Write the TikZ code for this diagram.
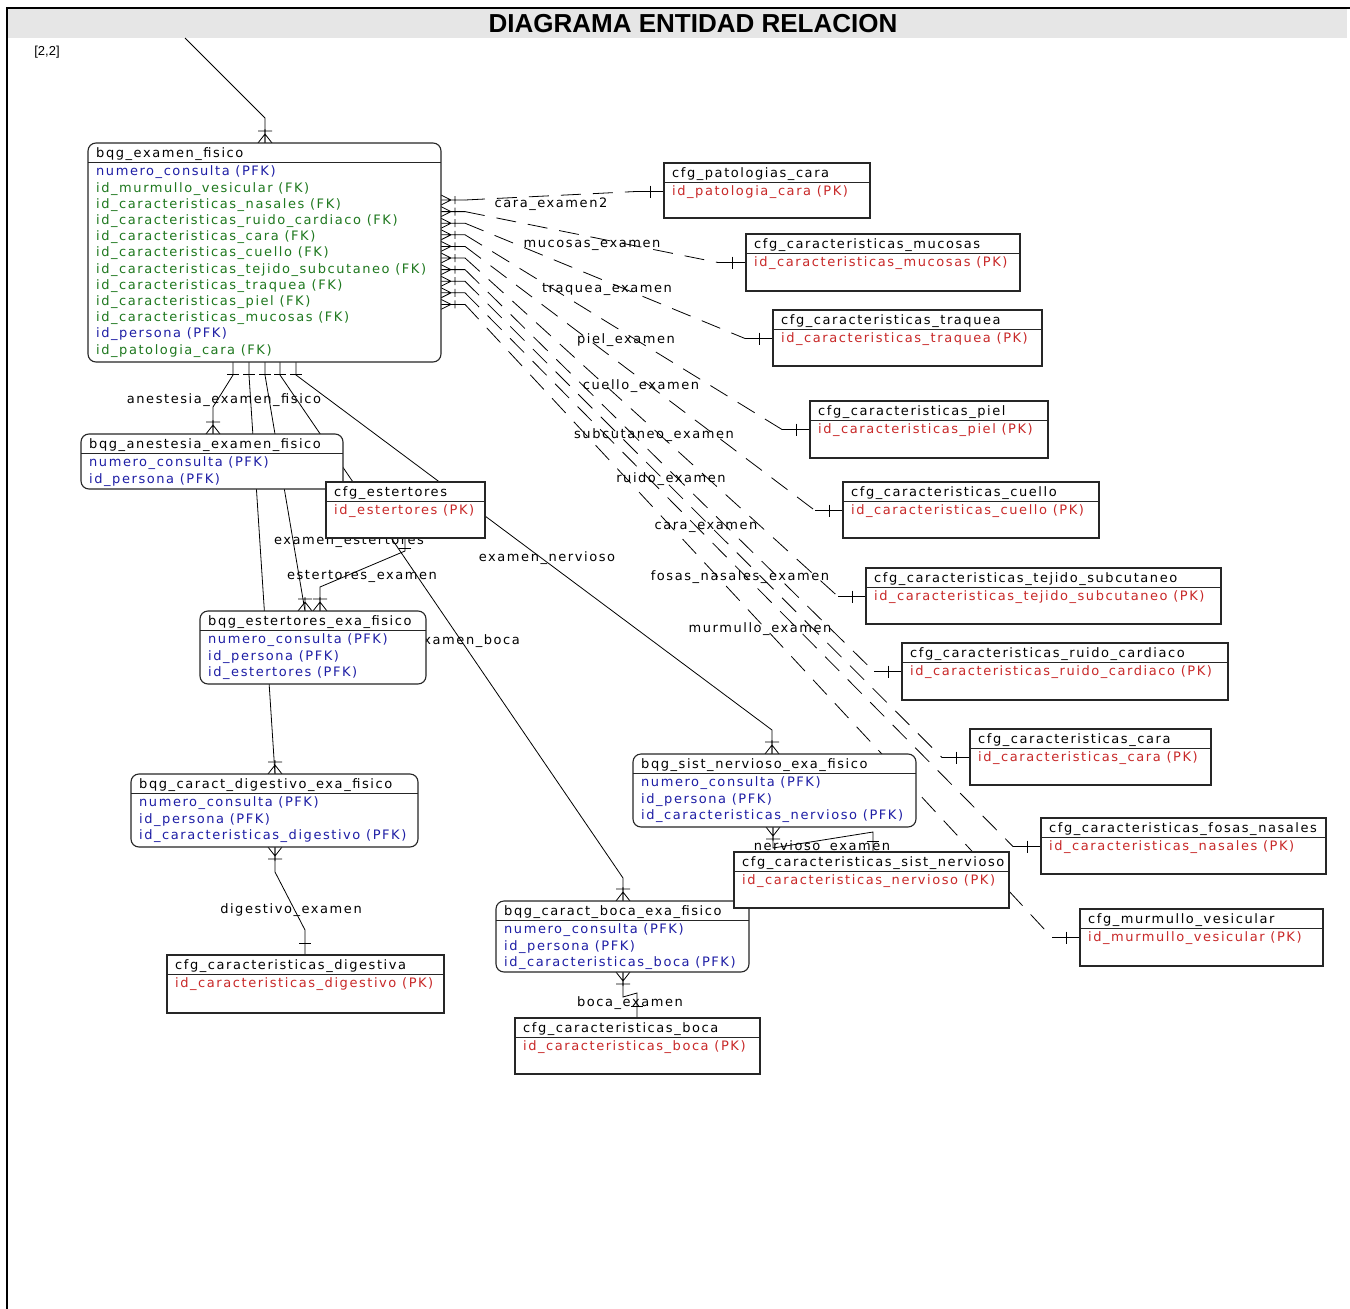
\documentclass[tikz,border=0pt]{standalone}
\usepackage{fontspec}
\usetikzlibrary{calc}
\newfontfamily\erfont[LetterSpace=12]{DejaVu Sans}
\newfontfamily\titlefont{Liberation Sans}
\definecolor{pkred}{RGB}{200,40,40}
\definecolor{fkgreen}{RGB}{30,120,30}
\definecolor{pfkblue}{RGB}{30,30,165}
\definecolor{titlegray}{RGB}{230,230,230}
\pgfdeclarelayer{back}
\pgfdeclarelayer{mid}
\pgfsetlayers{back,mid,main}
\tikzset{
 er/.style={font=\erfont\fontsize{13}{13}\selectfont, inner sep=0pt, anchor=west},
 hdr/.style={er, text=black},
 pk/.style={er, text=pkred},
 fk/.style={er, text=fkgreen},
 pfk/.style={er, text=pfkblue},
 rel/.style={er, anchor=center, text=black},
 bqg/.style={draw=black!85, line width=1.1pt, fill=white, rounded corners=8pt, inner sep=0pt, outer sep=0pt, anchor=north west},
 cfg/.style={draw=black!85, line width=1.1pt, fill=white, inner sep=0pt, outer sep=0pt, anchor=north west},
 conn/.style={line width=0.8pt, black},
 dconn/.style={conn, dash pattern=on 20pt off 12pt},
}
\newcommand\entbox[7]{%
  \node[#2, minimum width=#5pt, minimum height=#6pt] (#1) at (#3,#4) {};
  \node[hdr] (#1-h) at ($(#1.north west)+(8,11)$) {#7};
  \draw[line width=1pt, black!85] ($(#1.north west)+(0,19.5)$) -- ($(#1.north east)+(0,19.5)$);
}
\newcommand\entrow[4]{%
  \node[#3] (#1-r#2) at ($(#1.north west)+(8,29.5+16.2*#2)$) {#4};
}
\newcommand\crowmany[2]{%
  \draw[conn, shift={(#1)}, rotate=#2] (0,-7) -- (9,0) -- (0,7) (0,0) -- (14,0) (12,-7) -- (12,7);
}
\newcommand\crowsmall[1]{%
  \draw[conn, shift={(#1)}] (0,-5) -- (10,0) -- (0,5) (0,0) -- (24,0) (14,-4) -- (14,4);
}
\newcommand\onebar[2]{%
  \draw[conn, shift={(#1)}, rotate=#2] (0,-6) -- (0,6);
}
\begin{document}
\begin{tikzpicture}[x=1pt,y=-1pt]
\useasboundingbox (0,0) rectangle (1350,1309);
% frame and title
\begin{pgfonlayer}{back}
\fill[titlegray] (8,9) rectangle (1347,38);
\end{pgfonlayer}
\draw[line width=2pt] (7,1309) -- (7,8) -- (1350,8);
\node[font=\titlefont\bfseries\fontsize{26}{26}\selectfont, inner sep=0pt] (title) at (693,24) {DIAGRAMA ENTIDAD RELACION};
\node[font=\titlefont\fontsize{13}{13}\selectfont, inner sep=0pt] (grid) at (47,52) {[2,2]};
\coordinate (topend) at (185,38);

% ---------------- entities ----------------
\entbox{ef}{bqg}{88}{143}{353}{219}{bqg\_examen\_fisico}
\entrow{ef}{0}{pfk}{numero\_consulta (PFK)}
\entrow{ef}{1}{fk}{id\_murmullo\_vesicular (FK)}
\entrow{ef}{2}{fk}{id\_caracteristicas\_nasales (FK)}
\entrow{ef}{3}{fk}{id\_caracteristicas\_ruido\_cardiaco (FK)}
\entrow{ef}{4}{fk}{id\_caracteristicas\_cara (FK)}
\entrow{ef}{5}{fk}{id\_caracteristicas\_cuello (FK)}
\entrow{ef}{6}{fk}{id\_caracteristicas\_tejido\_subcutaneo (FK)}
\entrow{ef}{7}{fk}{id\_caracteristicas\_traquea (FK)}
\entrow{ef}{8}{fk}{id\_caracteristicas\_piel (FK)}
\entrow{ef}{9}{fk}{id\_caracteristicas\_mucosas (FK)}
\entrow{ef}{10}{pfk}{id\_persona (PFK)}
\entrow{ef}{11}{fk}{id\_patologia\_cara (FK)}

\entbox{pc}{cfg}{664}{163}{206}{55}{cfg\_patologias\_cara}
\entrow{pc}{0}{pk}{id\_patologia\_cara (PK)}
\entbox{mu}{cfg}{746}{234}{274}{57}{cfg\_caracteristicas\_mucosas}
\entrow{mu}{0}{pk}{id\_caracteristicas\_mucosas (PK)}
\entbox{tr}{cfg}{773}{310}{269}{56}{cfg\_caracteristicas\_traquea}
\entrow{tr}{0}{pk}{id\_caracteristicas\_traquea (PK)}
\entbox{pi}{cfg}{810}{401}{238}{57}{cfg\_caracteristicas\_piel}
\entrow{pi}{0}{pk}{id\_caracteristicas\_piel (PK)}
\entbox{cu}{cfg}{843}{482}{256}{56}{cfg\_caracteristicas\_cuello}
\entrow{cu}{0}{pk}{id\_caracteristicas\_cuello (PK)}
\entbox{ts}{cfg}{866}{568}{355}{56}{cfg\_caracteristicas\_tejido\_subcutaneo}
\entrow{ts}{0}{pk}{id\_caracteristicas\_tejido\_subcutaneo (PK)}
\entbox{rc}{cfg}{902}{643}{326}{57}{cfg\_caracteristicas\_ruido\_cardiaco}
\entrow{rc}{0}{pk}{id\_caracteristicas\_ruido\_cardiaco (PK)}
\entbox{ca}{cfg}{970}{729}{241}{56}{cfg\_caracteristicas\_cara}
\entrow{ca}{0}{pk}{id\_caracteristicas\_cara (PK)}
\entbox{fn}{cfg}{1041}{818}{285}{56}{cfg\_caracteristicas\_fosas\_nasales}
\entrow{fn}{0}{pk}{id\_caracteristicas\_nasales (PK)}
\entbox{mv}{cfg}{1080}{909}{243}{57}{cfg\_murmullo\_vesicular}
\entrow{mv}{0}{pk}{id\_murmullo\_vesicular (PK)}

\entbox{bsn}{bqg}{633}{754}{283}{73}{bqg\_sist\_nervioso\_exa\_fisico}
\entrow{bsn}{0}{pfk}{numero\_consulta (PFK)}
\entrow{bsn}{1}{pfk}{id\_persona (PFK)}
\entrow{bsn}{2}{pfk}{id\_caracteristicas\_nervioso (PFK)}
\entbox{bcb}{bqg}{496}{901}{253}{71}{bqg\_caract\_boca\_exa\_fisico}
\entrow{bcb}{0}{pfk}{numero\_consulta (PFK)}
\entrow{bcb}{1}{pfk}{id\_persona (PFK)}
\entrow{bcb}{2}{pfk}{id\_caracteristicas\_boca (PFK)}
\entbox{sn}{cfg}{734}{852}{275}{56}{cfg\_caracteristicas\_sist\_nervioso}
\entrow{sn}{0}{pk}{id\_caracteristicas\_nervioso (PK)}
\entbox{cb}{cfg}{515}{1018}{245}{56}{cfg\_caracteristicas\_boca}
\entrow{cb}{0}{pk}{id\_caracteristicas\_boca (PK)}

\entbox{bcd}{bqg}{131}{774}{287}{73}{bqg\_caract\_digestivo\_exa\_fisico}
\entrow{bcd}{0}{pfk}{numero\_consulta (PFK)}
\entrow{bcd}{1}{pfk}{id\_persona (PFK)}
\entrow{bcd}{2}{pfk}{id\_caracteristicas\_digestivo (PFK)}
\entbox{cd}{cfg}{167}{955}{277}{58}{cfg\_caracteristicas\_digestiva}
\entrow{cd}{0}{pk}{id\_caracteristicas\_digestivo (PK)}

\entbox{bee}{bqg}{200}{611}{226}{73}{bqg\_estertores\_exa\_fisico}
\entrow{bee}{0}{pfk}{numero\_consulta (PFK)}
\entrow{bee}{1}{pfk}{id\_persona (PFK)}
\entrow{bee}{2}{pfk}{id\_estertores (PFK)}
\entbox{ba}{bqg}{81}{434}{262}{55}{bqg\_anestesia\_examen\_fisico}
\entrow{ba}{0}{pfk}{numero\_consulta (PFK)}
\entrow{ba}{1}{pfk}{id\_persona (PFK)}
\entbox{ce}{cfg}{326}{482}{159}{56}{cfg\_estertores}
\entrow{ce}{0}{pk}{id\_estertores (PK)}

% ---------------- connectors ----------------
\begin{pgfonlayer}{back}
% top
\draw[conn] (topend) -- ($(ef.north west)+(177,-25)$) -- ($(ef.north west)+(177,0)$);
\crowmany{$(ef.north west)+(177,0)$}{90}
% right fan (dashed)
\foreach \i/\t in {1/pc,2/mu,3/tr,4/pi,5/cu,6/ts,7/rc,8/ca,9/fn,10/mv} {
  \coordinate (f\i) at ($(ef.north east)+(0,45.4+11.6*\i)$);
  \coordinate (s\i) at ($(f\i)+(24,0)$);
  \coordinate (a\i) at ($(\t.north west)+(-28,28.5)$);
  \crowsmall{f\i}
  \draw[dconn] (s\i) -- (a\i);
  \draw[conn] (a\i) -- ($(\t.north west)+(0,28.5)$);
  \onebar{$(\t.north west)+(-14,28.5)$}{0}
}
% bottom of bqg_examen_fisico
\draw[conn] ($(ef.south west)+(145,0)$) -- ++(0,13) -- ($(ba.north west)+(132,-27)$) -- ($(ba.north west)+(132,0)$);
\onebar{$(ef.south west)+(145,12)$}{90}
\crowmany{$(ba.north west)+(132,0)$}{90}
\draw[conn] ($(ef.south west)+(161,0)$) -- ++(0,13) -- ($(bcd.north west)+(144,0)$);
\onebar{$(ef.south west)+(161,12)$}{90}
\crowmany{$(bcd.north west)+(144,0)$}{90}
\draw[conn] ($(ef.south west)+(177,0)$) -- ++(0,13) -- ($(bee.north west)+(105,0)$);
\onebar{$(ef.south west)+(177,12)$}{90}
\crowmany{$(bee.north west)+(105,0)$}{90}
\draw[conn] ($(ef.south west)+(192,0)$) -- ++(0,13) -- ($(bcb.north west)+(127,-23)$) -- ($(bcb.north west)+(127,0)$);
\onebar{$(ef.south west)+(192,12)$}{90}
\crowmany{$(bcb.north west)+(127,0)$}{90}
\draw[conn] ($(ef.south west)+(208,0)$) -- ++(0,13) -- ($(bsn.north west)+(139,-24)$) -- ($(bsn.north west)+(139,0)$);
\onebar{$(ef.south west)+(208,12)$}{90}
\crowmany{$(bsn.north west)+(139,0)$}{90}
% estertores_examen
\draw[conn] ($(ce.south west)+(79,0)$) -- ++(0,13) -- ($(bee.north west)+(120,-24)$) -- ($(bee.north west)+(120,0)$);
\onebar{$(ce.south west)+(79,10)$}{90}
\crowmany{$(bee.north west)+(120,0)$}{90}
% digestivo_examen
\draw[conn] ($(bcd.south west)+(144,0)$) -- ++(0,25) -- ($(cd.north west)+(138,-25)$) -- ($(cd.north west)+(138,0)$);
\crowmany{$(bcd.south west)+(144,0)$}{-90}
\onebar{$(cd.north west)+(138,-12)$}{90}
% boca_examen
\draw[conn] ($(bcb.south west)+(127,0)$) -- ++(0,25) -- ($(cb.north west)+(122,-25)$) -- ($(cb.north west)+(122,0)$);
\crowmany{$(bcb.south west)+(127,0)$}{-90}
\onebar{$(cb.north west)+(122,-12)$}{90}
% nervioso_examen
\draw[conn] ($(bsn.south west)+(140,0)$) -- ++(0,21) -- ($(sn.north west)+(139,-20)$) -- ($(sn.north west)+(139,0)$);
\crowmany{$(bsn.south west)+(140,0)$}{-90}
\onebar{$(sn.north west)+(139,-11)$}{90}
\end{pgfonlayer}

% ---------------- relationship labels ----------------
\begin{pgfonlayer}{mid}
\node[rel] (l1) at (551,204) {cara\_examen2};
\node[rel] (l2) at (592,245) {mucosas\_examen};
\node[rel] (l3) at (607,289) {traquea\_examen};
\node[rel] (l4) at (626,340) {piel\_examen};
\node[rel] (l5) at (641,386) {cuello\_examen};
\node[rel] (l6) at (654,435) {subcutaneo\_examen};
\node[rel] (l7) at (671,479) {ruido\_examen};
\node[rel] (l8) at (706,527) {cara\_examen};
\node[rel] (l9) at (740,577) {fosas\_nasales\_examen};
\node[rel] (l10) at (760,629) {murmullo\_examen};
\node[rel] (l11) at (224,400) {anestesia\_examen\_fisico};
\node[rel] (l12) at (349,541) {examen\_estertores};
\node[rel] (l13) at (362,576) {estertores\_examen};
\node[rel] (l14) at (547,558) {examen\_nervioso};
\node[rel] (l15) at (467,641) {examen\_boca};
\node[rel] (l16) at (291,910) {digestivo\_examen};
\node[rel] (l17) at (630,1003) {boca\_examen};
\node[rel] (l18) at (822,847) {nervioso\_examen};
\end{pgfonlayer}
\end{tikzpicture}
\end{document}
